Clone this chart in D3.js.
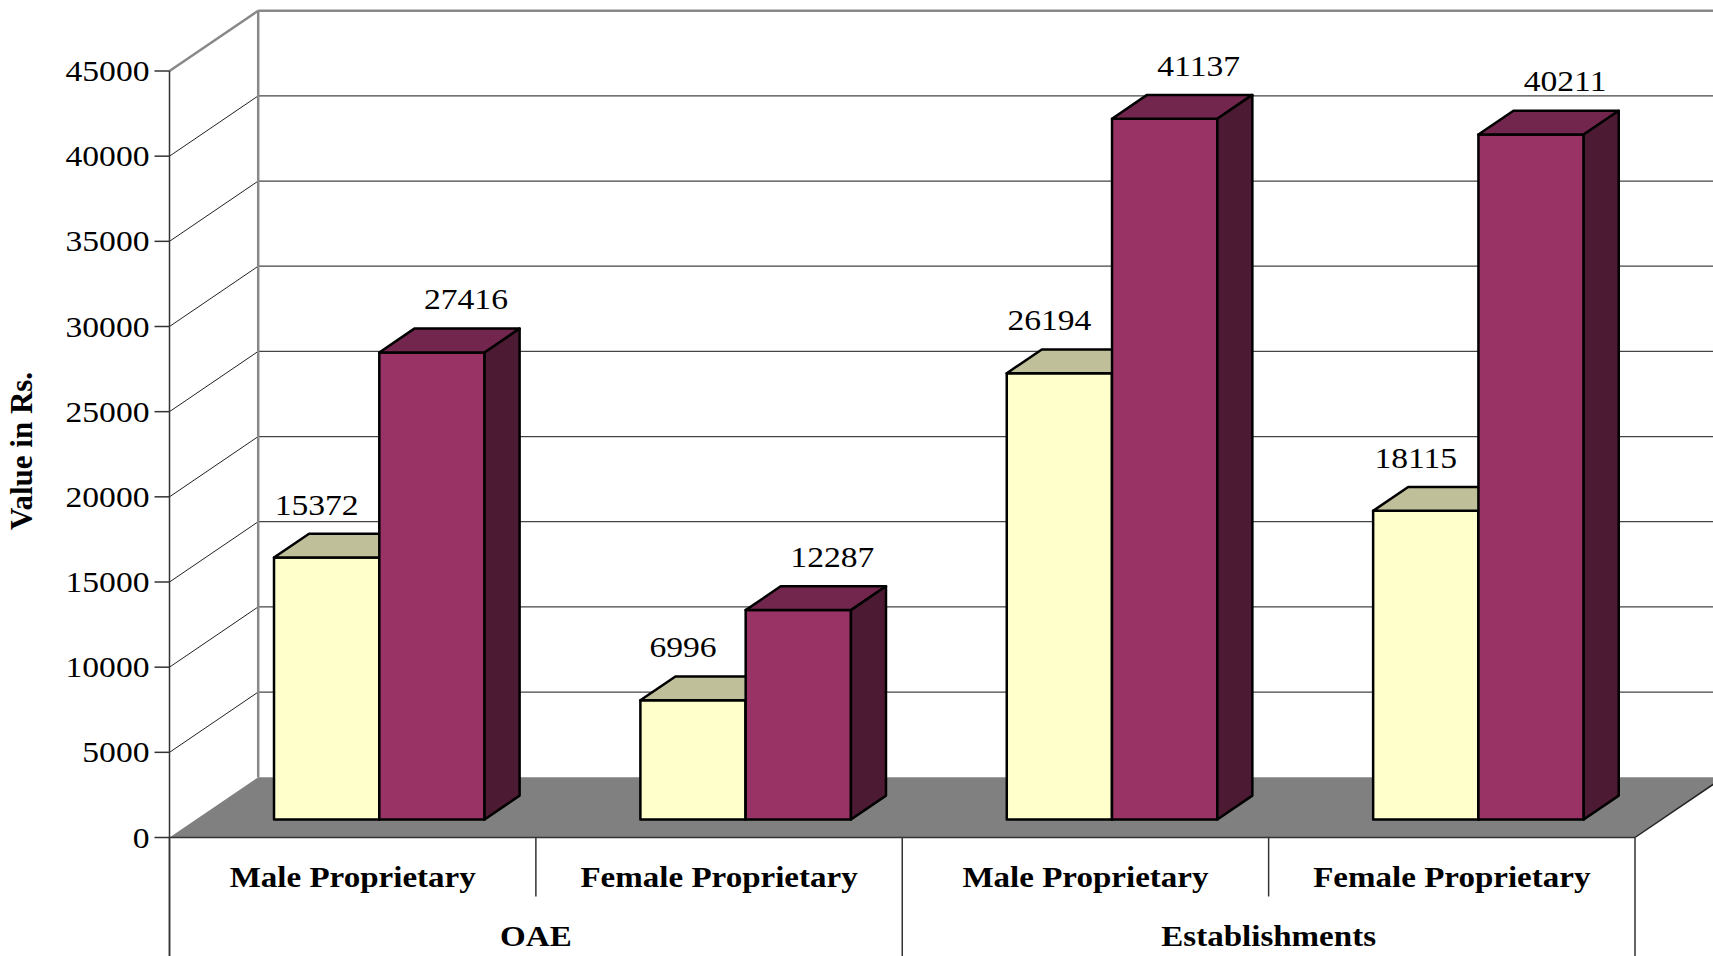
<!DOCTYPE html>
<html>
<head>
<meta charset="utf-8">
<title>Value in Rs.</title>
<script src="https://d3js.org/d3.v7.min.js"></script>
<style>
  body { margin: 0; background: #fff; }
  text { font-family: "Liberation Serif", "Times New Roman", serif; fill: #000; }
</style>
</head>
<body>
<script>
// data
var categories = ['Male Proprietary', 'Female Proprietary', 'Male Proprietary', 'Female Proprietary'];
var groups = ['OAE', 'Establishments'];
var seriesNames = ['first', 'second'];
var firstValues = [15372, 6996, 26194, 18115];
var secondValues = [27416, 12287, 41137, 40211];
var yTicks = [0, 5000, 10000, 15000, 20000, 25000, 30000, 35000, 40000, 45000];

var width = 1713, height = 956;
var left = 169.5, right = 1635, yBase = 837.5, yTopTick = 71;
var depthX = 88.7, depthY = 60.3;
var zFront = 0.30, zBack = 0.695;
var stretch = 1.12;

var fills = {
  first: { front: '#FFFFCC', top: '#BFBF99', side: '#99997A' },
  second: { front: '#993366', top: '#73264D', side: '#4D1A33' }
};

var svg = d3.select('body').append('svg')
  .attr('width', width)
  .attr('height', height);

var x = d3.scaleBand().domain(d3.range(categories.length)).range([left, right]);
var xs = d3.scaleBand().domain(seriesNames).range([0, x.bandwidth()]).paddingInner(0).paddingOuter(0.74);
var y = d3.scaleLinear().domain([0, 45000]).range([yBase, yTopTick]);

function proj(px, v, z) {
  return [px + z * depthX, y(v) - z * depthY];
}

function stext(g, tx, ty, txt, anchor, size, weight) {
  return g.append('g')
    .attr('transform', 'translate(' + tx + ',' + ty + ') scale(' + stretch + ',1)')
    .append('text')
    .attr('text-anchor', anchor)
    .style('font-size', size + 'px')
    .style('font-weight', weight || 'normal')
    .text(txt);
}

// back wall grid
var grid = svg.append('g');
grid.selectAll('.hline').data(yTicks.slice(1, -1)).enter().append('line')
  .attr('x1', left + depthX).attr('x2', width)
  .attr('y1', function(d) { return y(d) - depthY; })
  .attr('y2', function(d) { return y(d) - depthY; })
  .attr('stroke', '#444').attr('stroke-width', 1.2);
grid.selectAll('.dline').data(yTicks.slice(1, -1)).enter().append('line')
  .attr('x1', left).attr('y1', function(d) { return y(d); })
  .attr('x2', left + depthX).attr('y2', function(d) { return y(d) - depthY; })
  .attr('stroke', '#222').attr('stroke-width', 1);

// wall edges
grid.append('line')
  .attr('x1', left + depthX).attr('x2', width)
  .attr('y1', y(45000) - depthY).attr('y2', y(45000) - depthY)
  .attr('stroke', '#888').attr('stroke-width', 2.5);
grid.append('line')
  .attr('x1', left).attr('y1', y(45000))
  .attr('x2', left + depthX).attr('y2', y(45000) - depthY)
  .attr('stroke', '#888').attr('stroke-width', 2.5);
grid.append('line')
  .attr('x1', left + depthX).attr('x2', left + depthX)
  .attr('y1', y(45000) - depthY).attr('y2', y(0) - depthY)
  .attr('stroke', '#888').attr('stroke-width', 2.5);

// floor
var floorPts = [proj(left, 0, 0), proj(right, 0, 0), proj(right, 0, 1), proj(left, 0, 1)];
svg.append('polygon')
  .attr('points', floorPts.map(function(p) { return p.join(','); }).join(' '))
  .attr('fill', '#808080');
svg.append('line')
  .attr('x1', right).attr('y1', yBase)
  .attr('x2', right + depthX).attr('y2', yBase - depthY)
  .attr('stroke', '#222').attr('stroke-width', 1.5);

// front value axis
var axis = svg.append('g');
axis.append('line')
  .attr('x1', left).attr('x2', left)
  .attr('y1', y(45000)).attr('y2', height)
  .attr('stroke', '#333').attr('stroke-width', 1.5);
axis.selectAll('.tick').data(yTicks).enter().append('line')
  .attr('x1', left - 15).attr('x2', left)
  .attr('y1', function(d) { return y(d); })
  .attr('y2', function(d) { return y(d); })
  .attr('stroke', '#333').attr('stroke-width', 1.5);
yTicks.forEach(function(t) {
  stext(axis, left - 20, y(t) + 10, t, 'end', 30);
});

// bars
var bars = svg.append('g');
categories.forEach(function(c, i) {
  seriesNames.forEach(function(s, j) {
    var v = j === 0 ? firstValues[i] : secondValues[i];
    var bl = x(i) + xs(s), br = bl + xs.bandwidth();
    var faces = [
      { pts: [proj(bl, 0, zFront), proj(br, 0, zFront), proj(br, v, zFront), proj(bl, v, zFront)], fill: fills[s].front },
      { pts: [proj(bl, v, zFront), proj(br, v, zFront), proj(br, v, zBack), proj(bl, v, zBack)], fill: fills[s].top },
      { pts: [proj(br, 0, zFront), proj(br, 0, zBack), proj(br, v, zBack), proj(br, v, zFront)], fill: fills[s].side }
    ];
    bars.selectAll(null).data(faces).enter().append('polygon')
      .attr('points', function(d) { return d.pts.map(function(p) { return p.join(','); }).join(' '); })
      .attr('fill', function(d) { return d.fill; })
      .attr('stroke', '#000')
      .attr('stroke-width', 2.5)
      .attr('stroke-linejoin', 'round');
  });
});

// value labels
var labels = svg.append('g');
categories.forEach(function(c, i) {
  seriesNames.forEach(function(s, j) {
    var v = j === 0 ? firstValues[i] : secondValues[i];
    var cx = x(i) + xs(s) + xs.bandwidth() / 2 + zFront * depthX + (j === 0 ? -10 : 34);
    var top = y(v) - zFront * depthY;
    stext(labels, cx, top - 43, v, 'middle', 30);
  });
});

// category axis below floor
var cat = svg.append('g');
cat.append('line')
  .attr('x1', left).attr('x2', right)
  .attr('y1', yBase).attr('y2', yBase)
  .attr('stroke', '#333').attr('stroke-width', 1.5);
d3.range(categories.length + 1).forEach(function(k) {
  var px = k === categories.length ? right : x(k);
  cat.append('line')
    .attr('x1', px).attr('x2', px)
    .attr('y1', yBase).attr('y2', k % 2 === 0 ? height : yBase + 59)
    .attr('stroke', '#333').attr('stroke-width', 1.5);
});
categories.forEach(function(c, i) {
  stext(cat, x(i) + x.bandwidth() / 2, 887, c, 'middle', 29.5, 'bold');
});
groups.forEach(function(g, i) {
  stext(cat, x(i * 2) + x.bandwidth(), 946, g, 'middle', 29.5, 'bold');
});

// axis title
svg.append('text')
  .attr('transform', 'translate(32,451) rotate(-90)')
  .attr('text-anchor', 'middle')
  .style('font-size', '31px')
  .style('font-weight', 'bold')
  .text('Value in Rs.');
</script>
</body>
</html>
